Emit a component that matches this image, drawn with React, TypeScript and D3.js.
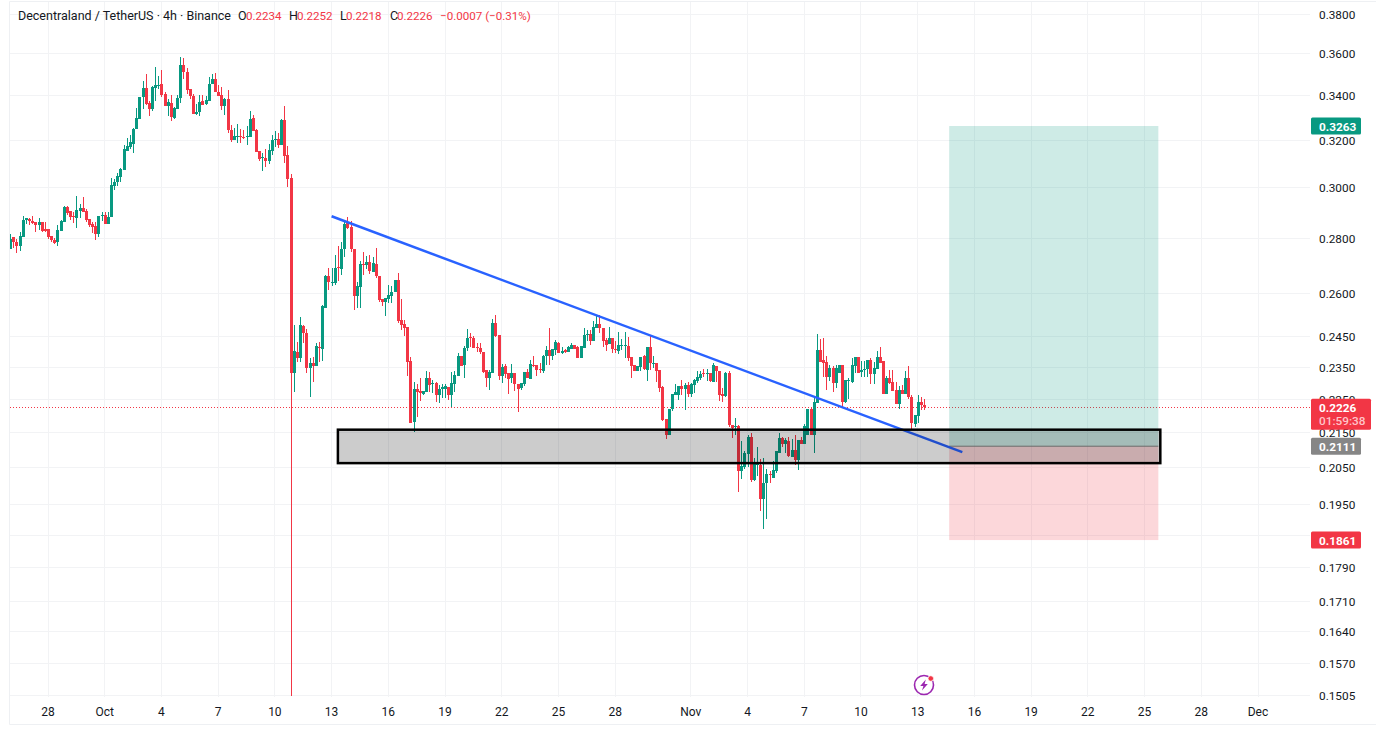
import React from 'react';
import * as d3 from 'd3';

// DCX: open, high, low, close for each 4h candle
const ohlc: number[][] = [
  [.2761,.2817,.2761,.2799],[.2805,.2805,.2763,.2787],[.2788,.2798,.2746,.2772],[.2772,.2825,.2753,.2809],
  [.2806,.2887,.2806,.2871],[.2870,.2879,.2855,.2879],[.2875,.2880,.2852,.2867],[.2867,.2887,.2855,.2861],
  [.2863,.2863,.2826,.2853],[.2853,.2880,.2832,.2863],[.2863,.2863,.2826,.2829],[.2835,.2863,.2826,.2829],
  [.2836,.2836,.2799,.2806],[.2811,.2811,.2787,.2794],[.2796,.2801,.2781,.2784],[.2787,.2852,.2772,.2832],
  [.2829,.2871,.2829,.2866],[.2865,.2927,.2865,.2922],[.2922,.2926,.2891,.2900],[.2905,.2905,.2871,.2884],
  [.2887,.2904,.2861,.2884],[.2880,.2966,.2841,.2910],[.2905,.2933,.2881,.2918],[.2918,.2961,.2904,.2904],
  [.2905,.2916,.2863,.2871],[.2874,.2874,.2845,.2852],[.2857,.2862,.2822,.2845],[.2848,.2864,.2793,.2816],
  [.2816,.2887,.2806,.2887],[.2887,.2904,.2868,.2890],[.2891,.2904,.2855,.2855],[.2855,.2904,.2855,.2884],
  [.2884,.3040,.2884,.3011],[.3009,.3037,.2991,.3023],[.3023,.3060,.3007,.3048],[.3045,.3084,.3025,.3077],
  [.3074,.3179,.3074,.3162],[.3155,.3211,.3155,.3175],[.3172,.3225,.3161,.3192],[.3184,.3254,.3146,.3250],
  [.3250,.3344,.3250,.3299],[.3295,.3395,.3295,.3395],[.3393,.3469,.3340,.3436],[.3436,.3502,.3358,.3362],
  [.3368,.3378,.3308,.3338],[.3340,.3447,.3332,.3443],[.3438,.3536,.3376,.3450],[.3449,.3493,.3430,.3452],
  [.3455,.3521,.3393,.3404],[.3409,.3419,.3355,.3355],[.3355,.3384,.3308,.3372],[.3365,.3404,.3287,.3302],
  [.3299,.3350,.3293,.3344],[.3340,.3404,.3340,.3390],[.3392,.3584,.3365,.3546],[.3546,.3580,.3478,.3510],
  [.3511,.3531,.3409,.3427],[.3432,.3432,.3385,.3401],[.3399,.3409,.3319,.3319],[.3319,.3362,.3313,.3325],
  [.3325,.3404,.3308,.3372],[.3376,.3404,.3358,.3359],[.3362,.3399,.3358,.3379],[.3376,.3486,.3376,.3455],
  [.3455,.3502,.3455,.3478],[.3478,.3507,.3416,.3416],[.3418,.3450,.3399,.3399],[.3402,.3443,.3335,.3355],
  [.3355,.3392,.3313,.3385],[.3385,.3427,.3231,.3245],[.3245,.3268,.3191,.3201],[.3201,.3254,.3201,.3219],
  [.3216,.3272,.3187,.3219],[.3219,.3250,.3187,.3216],[.3214,.3245,.3207,.3211],[.3213,.3263,.3179,.3219],
  [.3216,.3330,.3216,.3295],[.3299,.3311,.3242,.3242],[.3245,.3248,.3149,.3149],[.3153,.3153,.3111,.3119],
  [.3123,.3146,.3069,.3128],[.3123,.3162,.3087,.3112],[.3112,.3184,.3098,.3158],[.3153,.3223,.3136,.3201],
  [.3201,.3241,.3172,.3204],[.3205,.3231,.3168,.3179],[.3179,.3295,.3179,.3290],[.3290,.3353,.3104,.3132],
  [.3136,.3175,.3004,.3037],[.3040,.3055,.1503,.2332],
  [.2331,.2490,.2274,.2403],[.2398,.2434,.2368,.2381],[.2381,.2516,.2368,.2489],[.2487,.2489,.2428,.2461],
  [.2462,.2476,.2333,.2347],[.2349,.2379,.2258,.2364],[.2363,.2382,.2305,.2355],[.2355,.2428,.2355,.2419],
  [.2416,.2431,.2368,.2412],[.2411,.2559,.2370,.2554],[.2549,.2664,.2549,.2660],[.2660,.2689,.2609,.2640],
  [.2637,.2689,.2625,.2641],[.2637,.2738,.2629,.2689],[.2693,.2772,.2643,.2689],[.2688,.2785,.2664,.2761],
  [.2761,.2872,.2732,.2856],[.2859,.2882,.2837,.2839],[.2843,.2869,.2751,.2760],[.2760,.2760,.2541,.2588],
  [.2588,.2641,.2547,.2625],[.2623,.2714,.2549,.2705],[.2705,.2751,.2664,.2701],[.2701,.2735,.2686,.2713],
  [.2713,.2738,.2668,.2680],[.2676,.2732,.2676,.2709],[.2705,.2763,.2653,.2662],[.2660,.2660,.2567,.2576],
  [.2578,.2578,.2555,.2567],[.2570,.2584,.2521,.2584],[.2579,.2629,.2564,.2593],[.2590,.2625,.2564,.2603],
  [.2602,.2647,.2602,.2647],[.2647,.2671,.2495,.2504],[.2507,.2580,.2471,.2490],[.2492,.2507,.2453,.2478],
  [.2481,.2481,.2324,.2368],[.2369,.2382,.2180,.2180],[.2182,.2305,.2151,.2281],[.2282,.2297,.2198,.2274],
  [.2276,.2315,.2246,.2268],[.2266,.2276,.2264,.2276],[.2274,.2337,.2272,.2316],[.2316,.2334,.2271,.2295],
  [.2298,.2310,.2269,.2301],[.2299,.2305,.2243,.2262],[.2262,.2295,.2240,.2282],[.2282,.2297,.2255,.2287],
  [.2283,.2297,.2255,.2290],[.2287,.2287,.2248,.2262],[.2264,.2335,.2228,.2301],[.2298,.2339,.2274,.2326],
  [.2324,.2395,.2324,.2388],[.2388,.2388,.2355,.2355],[.2357,.2420,.2317,.2412],[.2412,.2476,.2404,.2446],
  [.2449,.2462,.2417,.2445],[.2447,.2453,.2412,.2414],[.2416,.2428,.2401,.2412],[.2412,.2428,.2393,.2398],
  [.2399,.2399,.2333,.2335],[.2340,.2340,.2287,.2317],[.2317,.2342,.2279,.2334],[.2332,.2510,.2331,.2496],
  [.2496,.2523,.2450,.2453],[.2456,.2456,.2310,.2321],[.2321,.2362,.2300,.2352],[.2354,.2360,.2315,.2329],
  [.2331,.2331,.2267,.2314],[.2315,.2362,.2302,.2331],[.2332,.2332,.2277,.2297],[.2297,.2297,.2213,.2282],
  [.2284,.2300,.2279,.2300],[.2298,.2335,.2291,.2335],[.2335,.2344,.2315,.2315],[.2314,.2373,.2314,.2360],
  [.2359,.2386,.2352,.2357],[.2357,.2357,.2324,.2343],
  [.2345,.2363,.2333,.2342],[.2339,.2390,.2333,.2387],[.2385,.2419,.2357,.2406],[.2406,.2479,.2357,.2388],
  [.2388,.2408,.2374,.2408],[.2406,.2439,.2390,.2432],[.2429,.2433,.2397,.2397],[.2397,.2417,.2393,.2402],
  [.2406,.2411,.2395,.2401],[.2401,.2419,.2401,.2417],[.2411,.2428,.2409,.2421],[.2422,.2424,.2409,.2410],
  [.2416,.2419,.2381,.2381],[.2381,.2418,.2381,.2418],[.2414,.2478,.2414,.2456],[.2455,.2472,.2437,.2458],
  [.2459,.2474,.2423,.2437],[.2437,.2503,.2437,.2483],[.2478,.2522,.2478,.2492],[.2492,.2522,.2463,.2478],
  [.2478,.2478,.2415,.2437],[.2440,.2446,.2404,.2424],[.2426,.2483,.2426,.2446],[.2446,.2446,.2395,.2409],
  [.2411,.2437,.2397,.2409],[.2404,.2467,.2393,.2422],[.2420,.2441,.2406,.2422],[.2420,.2467,.2381,.2422],
  [.2419,.2450,.2371,.2381],[.2383,.2383,.2315,.2355],[.2356,.2356,.2339,.2339],[.2339,.2355,.2339,.2355],
  [.2352,.2383,.2339,.2383],[.2388,.2390,.2342,.2345],[.2343,.2416,.2307,.2416],[.2416,.2456,.2342,.2363],
  [.2362,.2387,.2347,.2365],[.2363,.2363,.2305,.2339],[.2342,.2342,.2271,.2284],[.2287,.2292,.2186,.2188],
  [.2190,.2190,.2133,.2143],[.2142,.2221,.2142,.2221],[.2221,.2267,.2215,.2267],[.2264,.2298,.2264,.2272],
  [.2264,.2292,.2248,.2292],[.2292,.2311,.2264,.2282],[.2282,.2300,.2218,.2295],[.2295,.2305,.2258,.2267],
  [.2267,.2300,.2258,.2297],[.2295,.2313,.2269,.2310],[.2307,.2338,.2300,.2320],[.2317,.2338,.2310,.2329],
  [.2331,.2345,.2319,.2329],[.2330,.2345,.2307,.2333],[.2331,.2333,.2305,.2307],[.2305,.2365,.2305,.2357],
  [.2354,.2354,.2305,.2339],[.2339,.2339,.2245,.2264],[.2267,.2284,.2243,.2261],[.2261,.2336,.2256,.2333],
  [.2333,.2338,.2168,.2173],[.2173,.2173,.2135,.2163],[.2166,.2193,.2144,.2170],
  [.2170,.2172,.1983,.2042],[.2042,.2125,.2019,.2055],[.2053,.2098,.2047,.2091],[.2089,.2144,.2051,.2139],
  [.2139,.2149,.2010,.2017],[.2017,.2077,.2014,.2060],[.2058,.2110,.2026,.2061],[.2058,.2074,.1932,.1966],
  [.1966,.2077,.1886,.2008],[.2008,.2046,.1913,.2033],[.2034,.2040,.2008,.2031],[.2022,.2068,.2022,.2044],
  [.2041,.2098,.2035,.2098],[.2093,.2149,.2093,.2136],[.2134,.2139,.2110,.2118],[.2118,.2134,.2091,.2128],
  [.2127,.2137,.2080,.2084],[.2080,.2131,.2080,.2099],[.2099,.2142,.2058,.2072],[.2072,.2129,.2044,.2129],
  [.2129,.2139,.2118,.2118],[.2118,.2176,.2118,.2169],[.2144,.2221,.2144,.2221],[.2221,.2226,.2144,.2144],
  [.2144,.2258,.2093,.2242],[.2240,.2459,.2240,.2406],[.2406,.2444,.2367,.2368],[.2373,.2446,.2320,.2365],
  [.2368,.2387,.2279,.2320],[.2318,.2357,.2307,.2347],[.2347,.2354,.2274,.2301],[.2301,.2357,.2286,.2347],
  [.2331,.2357,.2331,.2357],[.2357,.2357,.2228,.2241],[.2241,.2311,.2238,.2309],[.2307,.2317,.2250,.2309],
  [.2304,.2381,.2302,.2357],[.2354,.2382,.2331,.2382],[.2382,.2384,.2333,.2333],[.2336,.2371,.2320,.2343],
  [.2341,.2371,.2318,.2346],[.2344,.2375,.2318,.2373],[.2373,.2379,.2297,.2328],[.2328,.2368,.2297,.2348],
  [.2344,.2404,.2344,.2382],[.2382,.2417,.2365,.2365],[.2369,.2369,.2266,.2266],[.2266,.2323,.2266,.2317],
  [.2317,.2341,.2297,.2299],[.2305,.2341,.2277,.2277],[.2279,.2305,.2236,.2236],[.2236,.2292,.2220,.2279],
  [.2279,.2294,.2266,.2266],[.2266,.2338,.2266,.2315],[.2315,.2354,.2250,.2257],[.2257,.2264,.2157,.2179],
  [.2176,.2203,.2168,.2203],[.2200,.2264,.2179,.2241],[.2241,.2258,.2218,.2234],[.2234,.2252,.2218,.2226],
];

const firstCandle = Date.UTC(2025, 8, 26);
const candleStep = 4 * 3600 * 1000;

const priceTicks = [.38, .36, .34, .32, .3, .28, .26, .245, .235, .225, .215, .205, .195, .187, .179, .171, .164, .157, .1505];
// 0.1870 has a grid line but its label sits fully under the stop label
const hiddenPriceLabels = [.187];
const dayTicks: [Date, string][] = [
  [new Date(Date.UTC(2025, 8, 28)), '28'],
  [new Date(Date.UTC(2025, 9, 1)), 'Oct'],
  [new Date(Date.UTC(2025, 9, 4)), '4'],
  [new Date(Date.UTC(2025, 9, 7)), '7'],
  [new Date(Date.UTC(2025, 9, 10)), '10'],
  [new Date(Date.UTC(2025, 9, 13)), '13'],
  [new Date(Date.UTC(2025, 9, 16)), '16'],
  [new Date(Date.UTC(2025, 9, 19)), '19'],
  [new Date(Date.UTC(2025, 9, 22)), '22'],
  [new Date(Date.UTC(2025, 9, 25)), '25'],
  [new Date(Date.UTC(2025, 9, 28)), '28'],
  [new Date(Date.UTC(2025, 10, 1)), 'Nov'],
  [new Date(Date.UTC(2025, 10, 4)), '4'],
  [new Date(Date.UTC(2025, 10, 7)), '7'],
  [new Date(Date.UTC(2025, 10, 10)), '10'],
  [new Date(Date.UTC(2025, 10, 13)), '13'],
  [new Date(Date.UTC(2025, 10, 16)), '16'],
  [new Date(Date.UTC(2025, 10, 19)), '19'],
  [new Date(Date.UTC(2025, 10, 22)), '22'],
  [new Date(Date.UTC(2025, 10, 25)), '25'],
  [new Date(Date.UTC(2025, 10, 28)), '28'],
  [new Date(Date.UTC(2025, 11, 1)), 'Dec'],
];

// drawings on the chart
const trendStart = { t: Date.UTC(2025, 9, 13), p: 0.2886 };
const trendEnd = { t: Date.UTC(2025, 10, 15, 8, 40), p: 0.2094 };
const zoneTimes = [Date.UTC(2025, 9, 13, 8), Date.UTC(2025, 10, 25, 20)];
const zonePrices = [0.2159, 0.2063];
const positionTimes = [Date.UTC(2025, 10, 14, 16), Date.UTC(2025, 10, 25, 17, 30)];
const targetPrice = 0.3263;
const entryPrice = 0.2111;
const stopPrice = 0.1858;
const lastPrice = 0.2226;

const headerParts: [number, string, boolean][] = [
  [18, 'Decentraland / TetherUS · 4h · Binance', false],
  [238, 'O', false],
  [246, '0.2234', true],
  [289, 'H', false],
  [297, '0.2252', true],
  [340, 'L', false],
  [346, '0.2218', true],
  [390, 'C', false],
  [397, '0.2226', true],
  [440, '−0.0007 (−0.31%)', true],
];

const GREEN = '#089981';
const RED = '#f23645';
const GRID = '#f2f3f5';
const TEXT = '#131722';
const FONT = 'Roboto, sans-serif';

const width = 1376;
const height = 729;
const paneLeft = 10;
const paneRight = 1310;
const paneBottom = 697;

const x = d3.scaleUtc()
  .domain([new Date(Date.UTC(2025, 8, 28)), new Date(Date.UTC(2025, 11, 1))])
  .range([48, 1258]);
const y = d3.scaleLog().domain([0.1505, 0.38]).range([695, 14]);

const trendLine = d3.line<{ t: number; p: number }>()
  .x((d) => x(new Date(d.t)))
  .y((d) => y(d.p));

const PriceLabel = ({ price, text, fill, w = 50, sub }: { price: number; text: string; fill: string; w?: number; sub?: string }) => {
  const top = y(price) - 8.5;
  const h = sub ? 31 : 17;
  return (
    <g>
      <rect x={1311} y={top} width={w} height={h} rx={1.5} fill={fill} />
      <text x={1319} y={top + 13} fill="#fff" fontSize={11.8} fontWeight={700} fontFamily={FONT}>
        {text}
      </text>
      {sub && (
        <text x={1319} y={top + 26} fill="#ffc4c9" fontSize={11.8} fontWeight={500} fontFamily={FONT}>
          {sub}
        </text>
      )}
    </g>
  );
};

const App = () => {
  const posLeft = x(new Date(positionTimes[0]));
  const posRight = x(new Date(positionTimes[1]));
  const zoneLeft = x(new Date(zoneTimes[0]));
  const zoneRight = x(new Date(zoneTimes[1]));
  const lastY = Math.round(y(lastPrice)) + 0.5;

  return (
    <svg
      width={width}
      height={height}
      style={{ position: 'fixed', left: 0, top: 0, background: '#fff' }}
    >
      <defs>
        <clipPath id="pane">
          <rect x={paneLeft} y={0} width={paneRight - paneLeft} height={paneBottom} />
        </clipPath>
      </defs>

      {/* frame */}
      <path d={`M${paneLeft - 0.5},${height - 4.5}V1.5H${width}M${paneLeft - 0.5},${height - 4.5}H${width}`} fill="none" stroke="#eef0f3" />

      {/* grid */}
      <g stroke={GRID} shapeRendering="crispEdges">
        {priceTicks.map((p) => (
          <line key={p} x1={paneLeft} x2={paneRight} y1={y(p)} y2={y(p)} />
        ))}
        {dayTicks.map(([d], i) => (
          <line key={i} x1={x(d)} x2={x(d)} y1={2} y2={paneBottom} />
        ))}
      </g>

      {/* last price line */}
      <line x1={paneLeft} x2={paneRight} y1={lastY} y2={lastY} stroke={RED} strokeDasharray="1 2" shapeRendering="crispEdges" />

      {/* candles */}
      <g clipPath="url(#pane)" shapeRendering="crispEdges">
        {ohlc.map(([o, h, l, c], i) => {
          const cx = Math.round(x(new Date(firstCandle + i * candleStep)));
          const fill = c >= o ? GREEN : RED;
          const top = y(Math.max(o, c));
          const bottom = y(Math.min(o, c));
          return (
            <g key={i} fill={fill}>
              <rect x={cx} y={y(h)} width={1} height={y(l) - y(h)} />
              <rect x={cx - 1} y={top} width={3} height={Math.max(bottom - top, 1)} />
            </g>
          );
        })}
      </g>

      {/* long position */}
      <rect x={posLeft} y={y(targetPrice)} width={posRight - posLeft} height={y(entryPrice) - y(targetPrice)} fill={GREEN} fillOpacity={0.2} />
      <rect x={posLeft} y={y(entryPrice)} width={posRight - posLeft} height={y(stopPrice) - y(entryPrice)} fill={RED} fillOpacity={0.2} />
      <line x1={posLeft} x2={posRight} y1={y(entryPrice)} y2={y(entryPrice)} stroke="#868686" />

      {/* trend line */}
      <path d={trendLine([trendStart, trendEnd]) ?? ''} fill="none" stroke="#2962ff" strokeWidth={2.5} />

      {/* support zone */}
      <rect
        x={zoneLeft}
        y={y(zonePrices[0])}
        width={zoneRight - zoneLeft}
        height={y(zonePrices[1]) - y(zonePrices[0])}
        fill="#000"
        fillOpacity={0.2}
        stroke="#000"
        strokeWidth={2.5}
      />

      {/* header */}
      <g fontFamily={FONT}>
        {headerParts.map(([left, label, isValue]) => (
          <text key={left} x={left} y={20} fontSize={isValue ? 11.6 : 12.5} fill={isValue ? RED : TEXT}>{label}</text>
        ))}
      </g>

      {/* price axis */}
      <g fontFamily={FONT} fontSize={11.8} fill={TEXT}>
        {priceTicks.filter((p) => !hiddenPriceLabels.includes(p)).map((p) => (
          <text key={p} x={1319} y={y(p) + 4.5}>{p.toFixed(4)}</text>
        ))}
      </g>
      <PriceLabel price={targetPrice} text="0.3263" fill={GREEN} />
      <PriceLabel price={lastPrice} text="0.2226" fill={RED} w={60} sub="01:59:38" />
      <PriceLabel price={entryPrice} text="0.2111" fill="#868686" />
      <PriceLabel price={stopPrice} text="0.1861" fill={RED} />

      {/* time axis */}
      <g fontFamily={FONT} fontSize={12} fill={TEXT} textAnchor="middle">
        {dayTicks.map(([d, label], i) => (
          <text key={i} x={x(d)} y={716}>{label}</text>
        ))}
      </g>

      {/* purple badge */}
      <g transform="translate(924,685)">
        <circle r={9.5} fill="#fff" stroke="#9c27b0" strokeWidth={1.6} />
        <path d="M1.8,-5.5 L-3.8,1 L-0.6,1 L-2,5.5 L3.8,-1 L0.6,-1 Z" fill="#9c27b0" />
        <circle cx={6.8} cy={-6.5} r={2.8} fill={RED} stroke="#fff" strokeWidth={0.8} />
      </g>
    </svg>
  );
};

export default App;
